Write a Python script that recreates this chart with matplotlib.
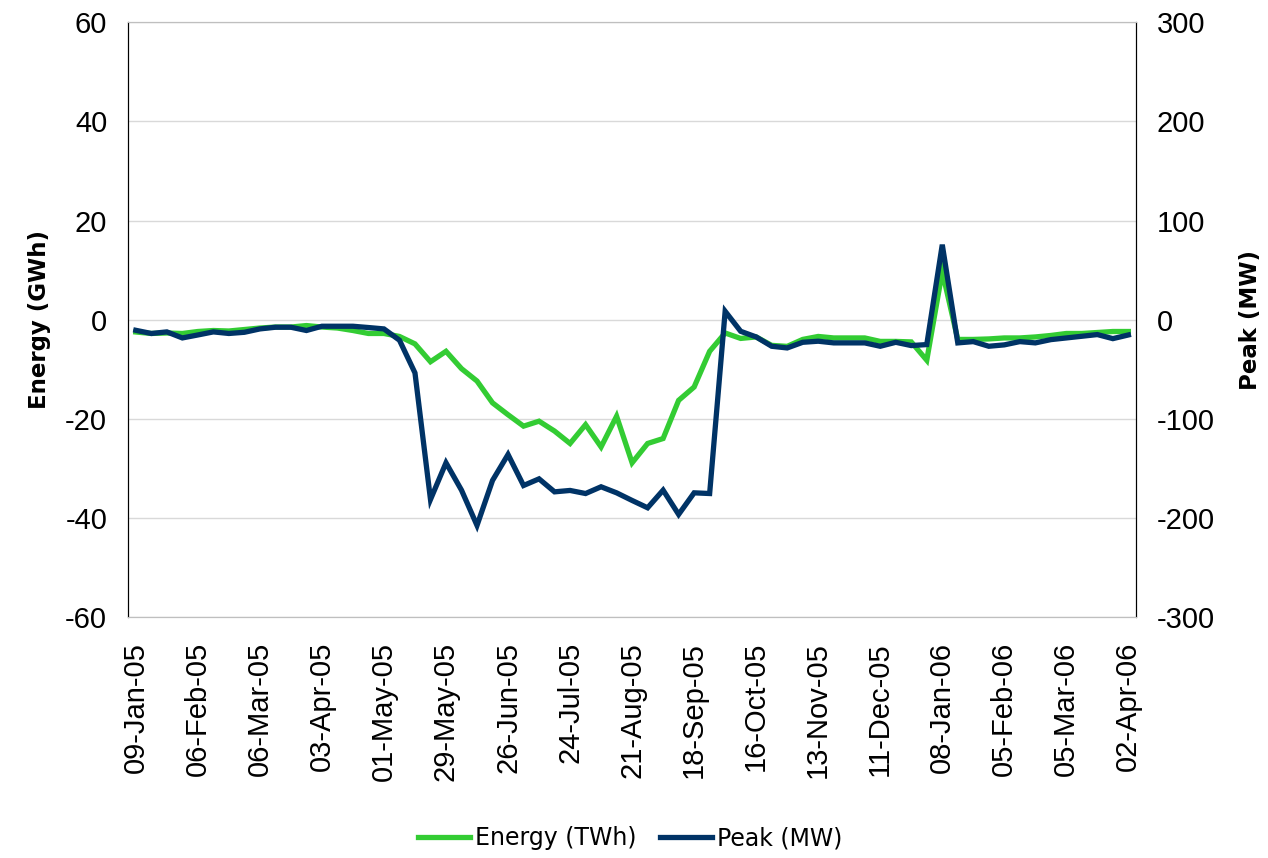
import numpy as np
import matplotlib
matplotlib.use('Agg')
import matplotlib.pyplot as plt
from matplotlib.lines import Line2D

# Weekly labels (every 4th week shown on the axis)
tick_labels = ['09-Jan-05', '06-Feb-05', '06-Mar-05', '03-Apr-05', '01-May-05',
               '29-May-05', '26-Jun-05', '24-Jul-05', '21-Aug-05', '18-Sep-05',
               '16-Oct-05', '13-Nov-05', '11-Dec-05', '08-Jan-06', '05-Feb-06',
               '05-Mar-06', '02-Apr-06']

# Energy difference, left axis (GWh)
energy = [-2.5, -2.8, -2.7, -2.8, -2.4, -2.2, -2.3, -2.0, -1.7, -1.5,
          -1.5, -1.2, -1.5, -1.7, -2.2, -2.8, -2.8, -3.4, -4.9, -8.5,
          -6.4, -9.9, -12.4, -16.8, -19.2, -21.5, -20.5, -22.5, -25.0, -21.2,
          -25.7, -19.5, -28.9, -25.0, -24.0, -16.3, -13.6, -6.4, -2.7, -3.8,
          -3.5, -5.2, -5.4, -4.0, -3.4, -3.7, -3.7, -3.7, -4.4, -4.4,
          -4.5, -8.2, 9.7, -4.0, -4.0, -3.9, -3.7, -3.7, -3.5, -3.2,
          -2.8, -2.8, -2.6, -2.4, -2.4]

# Peak difference, right axis (MW)
peak = [-10.8, -14.0, -12.4, -18.5, -15.5, -12.4, -14.0, -12.8, -9.4, -7.7,
        -7.7, -11.0, -6.7, -6.7, -6.7, -8.0, -9.4, -20.8, -53.8, -181.5,
        -144.5, -172.1, -207.7, -162.3, -136.1, -167.4, -160.7, -173.8, -172.4, -175.5,
        -168.7, -174.8, -182.5, -189.9, -172.1, -196.6, -174.8, -175.5, 8.4, -11.8,
        -17.5, -26.9, -28.6, -22.9, -21.8, -23.5, -23.5, -23.5, -26.9, -22.9,
        -26.2, -25.2, 75.6, -23.5, -22.2, -26.9, -25.5, -22.2, -23.5, -20.2,
        -18.5, -16.8, -15.1, -19.2, -15.5]

green = '#33CC33'
navy = '#003366'

plt.rcParams['font.family'] = ['Liberation Sans', 'DejaVu Sans']
plt.rcParams['axes.unicode_minus'] = False

fig = plt.figure(figsize=(12.68, 8.58), dpi=100)
ax1 = fig.add_axes([0.101, 0.281, 0.795, 0.693])
ax2 = ax1.twinx()

x = np.arange(len(energy))
ax1.plot(x, energy, color=green, lw=3.8, solid_joinstyle='miter')
ax2.plot(x, peak, color=navy, lw=3.8, solid_joinstyle='miter')

ax1.set_xlim(-0.5, len(energy) - 0.5)
ax1.set_ylim(-60, 60)
ax2.set_ylim(-300, 300)
ax1.set_yticks(np.arange(-60, 61, 20))
ax2.set_yticks(np.arange(-300, 301, 100))
ax1.set_xticks(np.arange(0, len(energy), 4))
ax1.set_xticklabels(tick_labels, rotation=90)

ax1.grid(axis='y', color='#D9D9D9', lw=1)
ax1.set_axisbelow(True)

for ax in (ax1, ax2):
    ax.tick_params(length=0, labelsize=21, colors='black')
    ax.spines['top'].set_color('#BFBFBF')
    ax.spines['bottom'].set_color('#BFBFBF')
    ax.spines['left'].set_color('black')
    ax.spines['right'].set_color('black')
ax1.tick_params(axis='y', pad=15)
ax2.tick_params(axis='y', pad=15)
ax1.tick_params(axis='x', pad=18)

lab_font = dict(family='DejaVu Sans', fontsize=16.5, fontweight='bold')
ax1.set_ylabel('Energy (GWh)', labelpad=10, **lab_font)
ax2.set_ylabel('Peak (MW)', rotation=90, labelpad=17, **lab_font)

handles = [Line2D([], [], color=green, lw=3.8), Line2D([], [], color=navy, lw=3.8)]
fig.legend(handles, ['Energy (TWh)', 'Peak (MW)'], loc='center', bbox_to_anchor=(0.497, 0.023),
           ncol=2, frameon=False, prop={'family': 'DejaVu Sans', 'size': 17},
           handlelength=2.2, handletextpad=0.2, columnspacing=1.0)

fig.savefig('out.png', dpi=100)
